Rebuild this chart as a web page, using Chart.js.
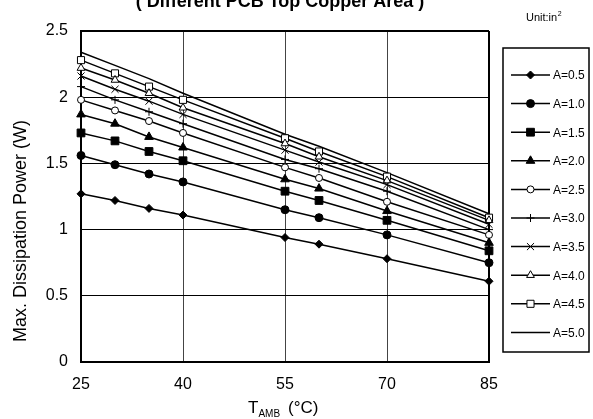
<!DOCTYPE html>
<html>
<head>
<meta charset="utf-8">
<script src="https://cdn.jsdelivr.net/npm/chart.js@4/dist/chart.umd.min.js"></script>
<style>
  html, body { margin: 0; padding: 0; background: #fff; }
  #chart { display: block; }
</style>
</head>
<body>
<canvas id="chart" width="593" height="419"></canvas>
<script>
// ambient temperature (°C)
const temps = [25, 30, 35, 40, 55, 60, 70, 85];

// max dissipation power (W) per copper area
const a05 = [1.27, 1.22, 1.16, 1.11, 0.94, 0.89, 0.78, 0.61];
const a10 = [1.56, 1.49, 1.42, 1.36, 1.15, 1.09, 0.96, 0.75];
const a15 = [1.73, 1.67, 1.59, 1.52, 1.29, 1.22, 1.07, 0.84];
const a20 = [1.87, 1.80, 1.70, 1.62, 1.38, 1.31, 1.14, 0.90];
const a25 = [1.98, 1.90, 1.82, 1.73, 1.47, 1.39, 1.21, 0.96];
const a30 = [2.08, 1.98, 1.89, 1.80, 1.53, 1.46, 1.29, 1.00];
const a35 = [2.16, 2.06, 1.97, 1.87, 1.60, 1.51, 1.34, 1.04];
const a40 = [2.22, 2.13, 2.03, 1.92, 1.65, 1.55, 1.37, 1.07];
const a45 = [2.28, 2.18, 2.08, 1.98, 1.69, 1.59, 1.40, 1.09];
const a50 = [2.34, 2.24, 2.14, 2.03, 1.72, 1.63, 1.43, 1.12];

const seriesNames = ['A=0.5', 'A=1.0', 'A=1.5', 'A=2.0', 'A=2.5', 'A=3.0', 'A=3.5', 'A=4.0', 'A=4.5', 'A=5.0'];
const seriesValues = [a05, a10, a15, a20, a25, a30, a35, a40, a45, a50];

const xTicks = [25, 40, 55, 70, 85];
const yTicks = [0, 0.5, 1, 1.5, 2, 2.5];

const FONT = '"Liberation Sans", Arial, sans-serif';

// marker look for each series
const markers = [
    { style: 'rectRot', radius: 4, fill: '#000' },
    { style: 'circle', radius: 4, fill: '#000' },
    { style: 'rect', radius: 5.5, fill: '#000' },
    { style: 'triangle', radius: 5, fill: '#000' },
    { style: 'circle', radius: 3.5, fill: '#fff' },
    { style: 'cross', radius: 4, fill: '#000' },
    { style: 'crossRot', radius: 5, fill: '#000' },
    { style: 'triangle', radius: 4.5, fill: '#fff' },
    { style: 'rect', radius: 5, fill: '#fff' },
    { style: 'circle', radius: 0, fill: '#000' }
];

const datasets = seriesValues.map((vals, i) => ({
    label: seriesNames[i],
    data: temps.map((t, j) => ({ x: t, y: vals[j] })),
    borderColor: '#000',
    borderWidth: 1.5,
    pointStyle: markers[i].style,
    pointRadius: markers[i].radius,
    pointBackgroundColor: markers[i].fill,
    pointBorderColor: '#000',
    pointBorderWidth: 1,
    tension: 0,
    fill: false,
    clip: false
}));

// draws title, unit note, axis titles and the boxed legend
const decorPlugin = {
    id: 'decor',
    afterDraw(chart) {
        const ctx = chart.ctx;
        ctx.save();
        ctx.fillStyle = '#000';

        // title, cut off at top edge
        ctx.font = 'bold 18px ' + FONT;
        ctx.textAlign = 'center';
        ctx.textBaseline = 'alphabetic';
        ctx.fillText('( Different PCB Top Copper Area )', 280, 7);

        // unit note
        ctx.font = '11px ' + FONT;
        ctx.textAlign = 'left';
        ctx.fillText('Unit:in', 526, 21);
        const uw = ctx.measureText('Unit:in').width;
        ctx.font = '7px ' + FONT;
        ctx.fillText('2', 526 + uw + 0.5, 16);

        // x axis title with subscript
        ctx.font = '17px ' + FONT;
        let x = 248;
        ctx.fillText('T', x, 413);
        x += ctx.measureText('T').width;
        ctx.font = '10px ' + FONT;
        ctx.fillText('AMB', x, 417);
        x += ctx.measureText('AMB').width + 8;
        ctx.font = '17px ' + FONT;
        ctx.fillText('(\u00b0C)', x, 413);

        // y axis title
        ctx.save();
        ctx.translate(26, 231);
        ctx.rotate(-Math.PI / 2);
        ctx.font = '18px ' + FONT;
        ctx.textAlign = 'center';
        ctx.fillText('Max. Dissipation Power (W)', 0, 0);
        ctx.restore();

        // legend box
        const lx = 503, ly = 48, lw = 86, lh = 304;
        ctx.lineWidth = 1.5;
        ctx.strokeStyle = '#000';
        ctx.strokeRect(lx, ly, lw, lh);
        ctx.font = '12px ' + FONT;
        ctx.textBaseline = 'middle';
        ctx.textAlign = 'left';
        chart.data.datasets.forEach((ds, i) => {
            const y = 75 + i * 28.6;
            ctx.beginPath();
            ctx.lineWidth = 1.5;
            ctx.moveTo(511, y);
            ctx.lineTo(550, y);
            ctx.stroke();
            if (ds.pointRadius > 0) {
                ctx.fillStyle = ds.pointBackgroundColor;
                ctx.strokeStyle = '#000';
                ctx.lineWidth = 1;
                Chart.helpers.drawPoint(ctx, { pointStyle: ds.pointStyle, radius: ds.pointRadius, borderWidth: 1, rotation: 0 }, 530.5, y);
            }
            ctx.fillStyle = '#000';
            ctx.fillText(ds.label, 553, y + 1);
        });
        ctx.restore();
    }
};

const ctx = document.getElementById('chart').getContext('2d');
const chart = new Chart(ctx, {
    type: 'line',
    data: { datasets: datasets },
    plugins: [decorPlugin],
    options: {
        responsive: false,
        animation: false,
        layout: { padding: { left: 0, right: 104, top: 31, bottom: 0 } },
        plugins: {
            legend: { display: false },
            tooltip: { enabled: false }
        },
        scales: {
            x: {
                type: 'linear',
                min: 25,
                max: 85,
                afterBuildTicks: (s) => { s.ticks = xTicks.map(v => ({ value: v })); },
                afterFit: (s) => { s.height = 57; },
                ticks: {
                    color: '#000',
                    font: { family: FONT, size: 16 },
                    padding: 13,
                    maxRotation: 0
                },
                grid: {
                    drawTicks: false,
                    color: (c) => (c.index === 0 || c.index === xTicks.length - 1) ? '#000' : '#444',
                    lineWidth: (c) => (c.index === xTicks.length - 1) ? 2 : 1
                },
                border: { color: '#000', width: 2 }
            },
            y: {
                min: 0,
                max: 2.5,
                afterBuildTicks: (s) => { s.ticks = yTicks.map(v => ({ value: v })); },
                afterFit: (s) => { s.width = 81; },
                ticks: {
                    color: '#000',
                    font: { family: FONT, size: 16 },
                    padding: 13,
                    callback: (v) => String(v)
                },
                grid: {
                    drawTicks: false,
                    color: '#000',
                    lineWidth: (c) => (c.index === yTicks.length - 1) ? 2 : 1
                },
                border: { color: '#000', width: 2 }
            }
        }
    }
});
</script>
</body>
</html>
